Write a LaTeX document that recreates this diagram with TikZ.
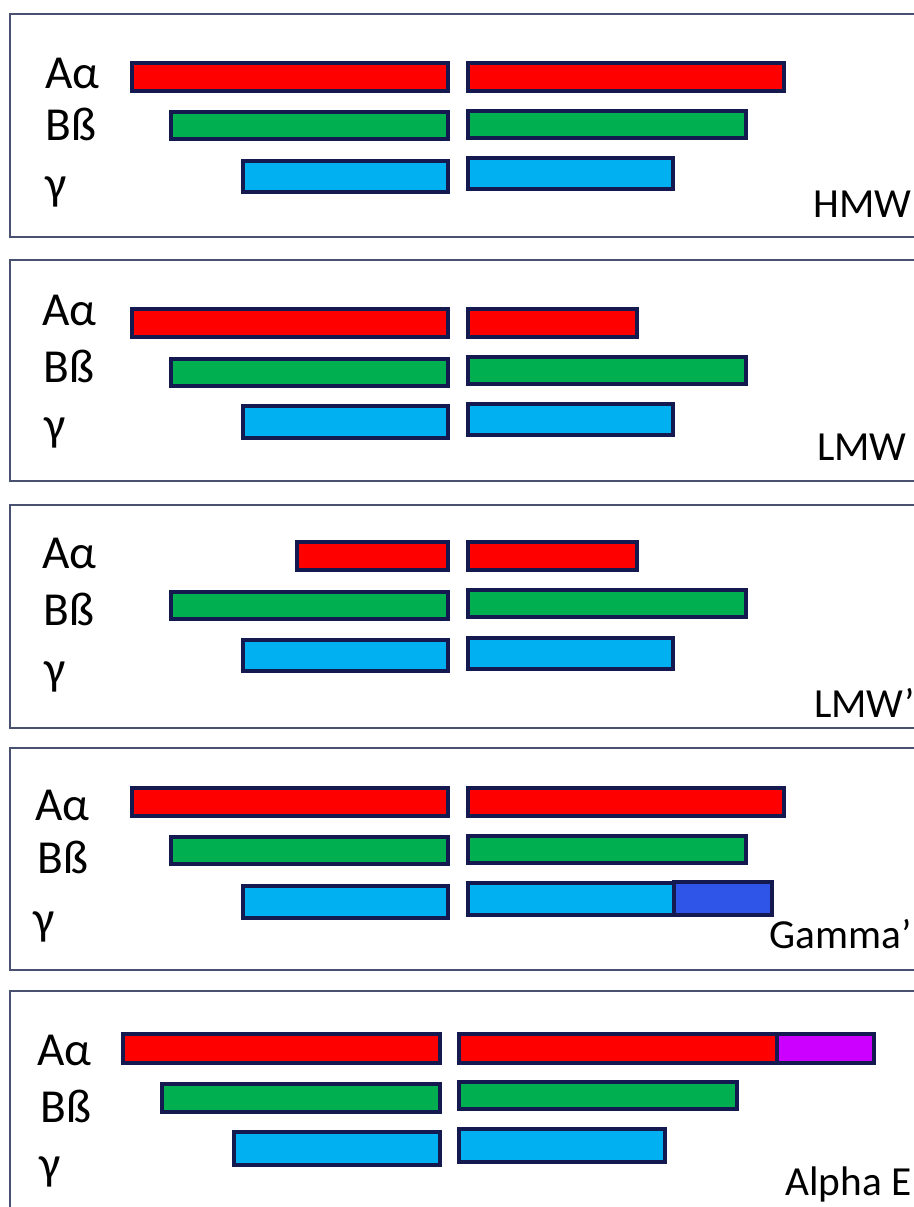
\documentclass[tikz,border=0pt]{standalone}
\usepackage{fontspec}
\setmainfont{Carlito}
\definecolor{barline}{RGB}{20,26,80}
\definecolor{framec}{RGB}{72,82,112}
\definecolor{chainA}{RGB}{255,0,0}
\definecolor{chainB}{RGB}{0,176,80}
\definecolor{chainG}{RGB}{0,176,240}
\definecolor{gammaext}{RGB}{46,84,232}
\definecolor{alphaext}{RGB}{204,0,255}
% bar: filled chain segment, corners given in pixel units
\newcommand\chainbar[5]{\draw[bar,fill=#1] (#2,#3) rectangle (#4,#5);}
% open frame of a panel, running off the right edge
\newcommand\panelframe[2]{\draw[frame] (914,#1) -- (10,#1) -- (10,#2) -- (914,#2);}
\begin{document}
\begin{tikzpicture}[x=0.75pt,y=-0.75pt,
  bar/.style={draw=barline,line width=2.3pt},
  frame/.style={line width=1.1pt,color=framec},
  rowlab/.style={anchor=base west,inner sep=0pt,font=\fontsize{35.5}{40}\selectfont},
  tag/.style={anchor=base west,inner sep=0pt,font=\fontsize{31}{36}\selectfont},
  tagr/.style={anchor=base east,inner sep=0pt,font=\fontsize{31}{36}\selectfont}]
\useasboundingbox (0,0) rectangle (914,1207);

% ---- HMW ----
\panelframe{14}{237}
\chainbar{chainA}{132}{63}{448}{91}
\chainbar{chainA}{468}{63}{784}{91}
\chainbar{chainB}{171}{112}{448}{139}
\chainbar{chainB}{468}{111}{746}{138}
\chainbar{chainG}{243}{161}{448}{192}
\chainbar{chainG}{468}{158}{673}{189}
\node[rowlab] (a1) at (45,88) {Aα};
\node[rowlab] (b1) at (45,140) {Bß};
\node[rowlab] (g1) at (45,199) {γ};
\node[tagr] (t1) at (912,217) {HMW};

% ---- LMW ----
\panelframe{260}{481}
\chainbar{chainA}{132}{309}{448}{337}
\chainbar{chainA}{468}{309}{637}{337}
\chainbar{chainB}{171}{359}{448}{386}
\chainbar{chainB}{468}{357}{746}{384}
\chainbar{chainG}{243}{406}{448}{438}
\chainbar{chainG}{468}{404}{673}{435}
\node[rowlab] (a2) at (42,325) {Aα};
\node[rowlab] (b2) at (43,382) {Bß};
\node[rowlab] (g2) at (44,440) {γ};
\node[tag] (t2) at (817,460) {LMW};

% ---- LMW' ----
\panelframe{505}{728}
\chainbar{chainA}{297}{542}{448}{570}
\chainbar{chainA}{468}{542}{637}{570}
\chainbar{chainB}{171}{592}{448}{619}
\chainbar{chainB}{468}{590}{746}{617}
\chainbar{chainG}{243}{640}{448}{671}
\chainbar{chainG}{468}{638}{673}{669}
\node[rowlab] (a3) at (42,568) {Aα};
\node[rowlab] (b3) at (43,625) {Bß};
\node[rowlab] (g3) at (44,684) {γ};
\node[tag] (t3) at (814,717) {LMW’};

% ---- Gamma' ----
\panelframe{748}{970}
\chainbar{chainA}{132}{788}{448}{816}
\chainbar{chainA}{468}{788}{784}{816}
\chainbar{chainB}{171}{837}{448}{864}
\chainbar{chainB}{468}{836}{746}{863}
\chainbar{chainG}{243}{886}{448}{918}
\chainbar{chainG}{468}{883}{674}{915}
\chainbar{gammaext}{674}{882}{772}{915}
\node[rowlab] (a4) at (35,820) {Aα};
\node[rowlab] (b4) at (37,873) {Bß};
\node[rowlab] (g4) at (33,934) {γ};
\node[tag] (t4) at (769,948) {Gamma’};

% ---- Alpha E ----
\panelframe{991}{1212}
\chainbar{chainA}{123}{1034}{440}{1063}
\chainbar{chainA}{459}{1034}{777}{1063}
\chainbar{alphaext}{777}{1034}{874}{1063}
\chainbar{chainB}{162}{1084}{440}{1112}
\chainbar{chainB}{459}{1082}{737}{1109}
\chainbar{chainG}{234}{1132}{440}{1165}
\chainbar{chainG}{459}{1129}{665}{1162}
\node[rowlab] (a5) at (37,1065) {Aα};
\node[rowlab] (b5) at (40,1122) {Bß};
\node[rowlab] (g5) at (39,1179) {γ};
\node[tagr] (t5) at (912,1195) {Alpha E};
\end{tikzpicture}
\end{document}
